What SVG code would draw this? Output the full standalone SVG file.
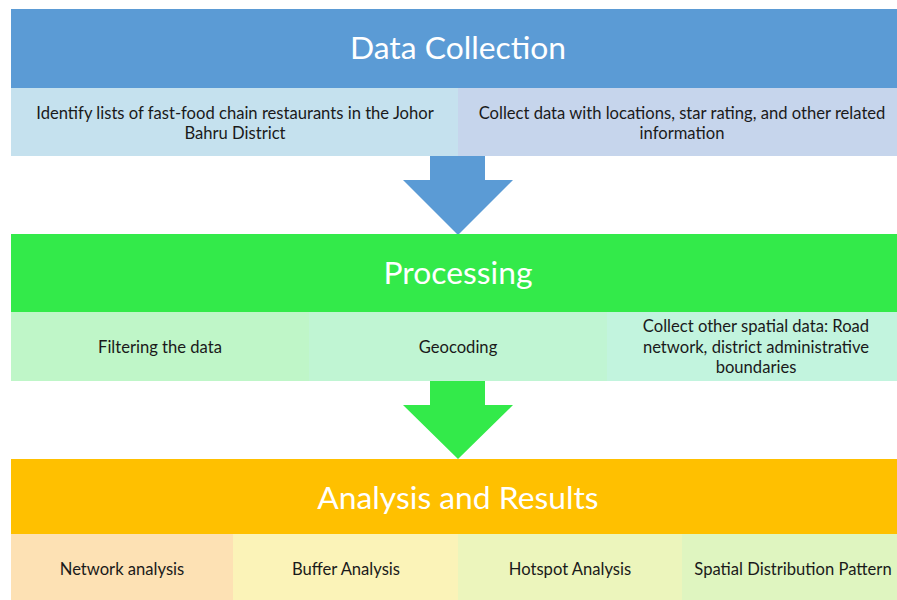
<svg xmlns="http://www.w3.org/2000/svg" width="897" height="600" viewBox="0 0 897 600">
<style>
.title{font-family:Lato,"Open Sans",sans-serif;font-size:31.8px;fill:#ffffff;text-anchor:middle}
.sub{font-family:Lato,"Open Sans",sans-serif;font-size:16.6px;fill:#1a1a1a;text-anchor:middle}
</style>
<rect width="897" height="600" fill="#ffffff"/>
<g id="connectors">
<polygon points="430,156 485,156 485,180 513,180 458,235 403,180 430,180" fill="#5B9BD5"/>
<polygon points="430,381 485,381 485,405 513,405 458,459 403,405 430,405" fill="#33EA4A"/>
</g>
<g id="data-collection">
<rect x="11" y="9" width="886" height="79" fill="#5B9BD5"/>
<text class="title" x="458" y="59">Data Collection</text>
</g>
<g id="identify">
<rect x="11" y="88" width="447" height="68" fill="#C5E1EE"/>
<text class="sub" x="235" y="118.5">Identify lists of fast-food chain restaurants in the Johor</text>
<text class="sub" x="235" y="138.5">Bahru District</text>
</g>
<g id="collect-data">
<rect x="458" y="88" width="439" height="68" fill="#C6D5EC"/>
<text class="sub" x="682" y="118.5">Collect data with locations, star rating, and other related</text>
<text class="sub" x="682" y="138.5">information</text>
</g>
<g id="processing">
<rect x="11" y="234" width="886" height="78" fill="#33EA4A"/>
<text class="title" x="458" y="284">Processing</text>
</g>
<g id="filtering">
<rect x="11" y="312" width="298" height="69" fill="#BFF6C8"/>
<text class="sub" x="160" y="353">Filtering the data</text>
</g>
<g id="geocoding">
<rect x="309" y="312" width="298" height="69" fill="#C0F5D3"/>
<text class="sub" x="458" y="353">Geocoding</text>
</g>
<g id="spatial-data">
<rect x="607" y="312" width="290" height="69" fill="#C2F4DE"/>
<text class="sub" x="756" y="332">Collect other spatial data: Road</text>
<text class="sub" x="756" y="353">network, district administrative</text>
<text class="sub" x="756" y="373">boundaries</text>
</g>
<g id="analysis">
<rect x="11" y="459" width="886" height="75" fill="#FFC000"/>
<text class="title" x="458" y="509">Analysis and Results</text>
</g>
<g id="network">
<rect x="11" y="534" width="222" height="66" fill="#FDE1B4"/>
<text class="sub" x="122" y="575">Network analysis</text>
</g>
<g id="buffer">
<rect x="233" y="534" width="225" height="66" fill="#FBF3B8"/>
<text class="sub" x="346" y="575">Buffer Analysis</text>
</g>
<g id="hotspot">
<rect x="458" y="534" width="224" height="66" fill="#ECF5BC"/>
<text class="sub" x="570" y="575">Hotspot Analysis</text>
</g>
<g id="spatial-pattern">
<rect x="682" y="534" width="215" height="66" fill="#DFF5C0"/>
<text class="sub" x="793" y="575">Spatial Distribution Pattern</text>
</g>
</svg>
